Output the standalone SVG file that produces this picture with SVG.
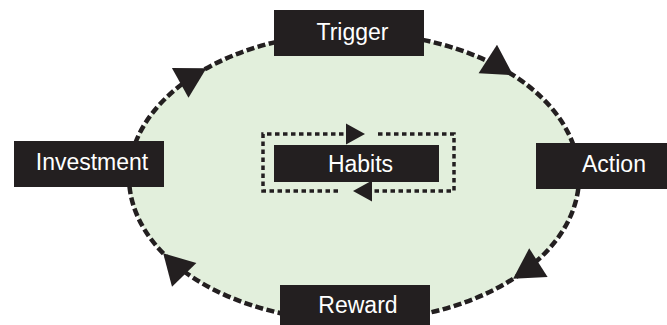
<svg xmlns="http://www.w3.org/2000/svg" width="667" height="325" viewBox="0 0 667 325">
  <style>
    .box { fill: #231f20; }
    .label { fill: #ffffff; font-family: "Liberation Sans", Arial, sans-serif; font-size: 23px; text-anchor: middle; }
    .loop { fill: none; stroke: #231f20; stroke-width: 4.5; stroke-dasharray: 8 3.5; }
    .inner { fill: none; stroke: #231f20; stroke-width: 3.5; stroke-dasharray: 4.5 3.5; }
    .head { fill: #231f20; }
  </style>

  <!-- shaded cycle area -->
  <ellipse cx="354" cy="177" rx="225" ry="144" fill="#e2efdc"/>

  <g id="connectors">
    <!-- outer cycle, one quarter-arc per step -->
    <path class="loop" d="M354,33 A225,144 0 0 1 579,177"/>
    <path class="loop" d="M579,177 A225,144 0 0 1 354,321"/>
    <path class="loop" d="M354,321 A225,144 0 0 1 129,177"/>
    <path class="loop" d="M129,177 A225,144 0 0 1 354,33"/>
    <!-- arrowheads along the cycle -->
    <polygon class="head" points="513.1,75.2 478.6,73.3 497,44.7"/>
    <polygon class="head" points="513.1,278.8 529.2,248.3 547.6,276.9"/>
    <polygon class="head" points="163.2,253.3 196.4,262.9 172,286.7"/>
    <polygon class="head" points="206.4,68.3 188.5,97.8 171.9,68"/>
    <!-- inner habit loop -->
    <path class="inner" d="M338,191 L263,191 L263,134 L350,134"/>
    <path class="inner" d="M378,134 L454,134 L454,191 L368,191"/>
    <polygon class="head" points="365,134 346,123.5 346,144.5"/>
    <polygon class="head" points="353,191 372,180.5 372,201.5"/>
  </g>

  <g id="trigger">
    <rect class="box" x="274" y="10" width="150" height="46"/>
    <text class="label" x="352.5" y="40">Trigger</text>
  </g>
  <g id="action">
    <rect class="box" x="536" y="143" width="150" height="46"/>
    <text class="label" x="614" y="172">Action</text>
  </g>
  <g id="reward">
    <rect class="box" x="280" y="285" width="150" height="46"/>
    <text class="label" x="358" y="313">Reward</text>
  </g>
  <g id="investment">
    <rect class="box" x="14" y="141" width="150" height="46"/>
    <text class="label" x="92" y="170">Investment</text>
  </g>
  <g id="habits">
    <rect class="box" x="274" y="145" width="165" height="37"/>
    <text class="label" x="360.5" y="172">Habits</text>
  </g>
</svg>
